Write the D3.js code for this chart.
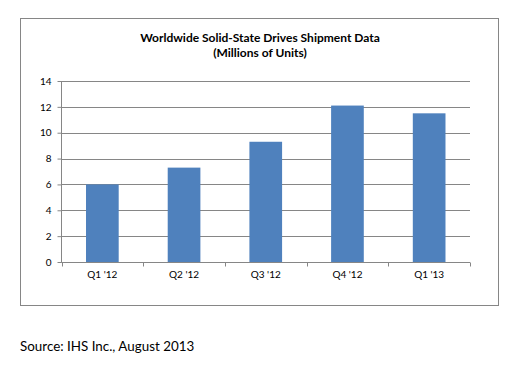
<!DOCTYPE html>
<html>
<head>
<meta charset="utf-8">
<script src="https://cdn.jsdelivr.net/npm/d3@7/dist/d3.min.js"></script>
<style>
  body { margin: 0; background: #fff; }
  text { font-family: Lato, "Open Sans", sans-serif; fill: #000; }
</style>
</head>
<body>
<svg width="524" height="368"></svg>
<script>
// quarterly shipments, millions of units
var quarters = ["Q1 '12", "Q2 '12", "Q3 '12", "Q4 '12", "Q1 '13"];
var shipments = [6.0, 7.3, 9.3, 12.1, 11.5];
var yTicks = [0, 2, 4, 6, 8, 10, 12, 14];
var titleLines = ["Worldwide Solid-State Drives Shipment Data", "(Millions of Units)"];
var sourceNote = "Source: IHS Inc., August 2013";

var svg = d3.select("svg");

// chart frame
svg.append("rect")
  .attr("x", 20.5).attr("y", 18.5)
  .attr("width", 478).attr("height", 287)
  .attr("fill", "#fff")
  .attr("stroke", "#868686");

var x = d3.scaleBand()
  .domain(quarters)
  .range([61.5, 470])
  .paddingInner(0.6)
  .paddingOuter(0.3);

var y = d3.scaleLinear()
  .domain([0, 14])
  .range([262, 81]);

// gridlines
svg.append("g")
  .selectAll("line")
  .data(yTicks)
  .enter().append("line")
  .attr("x1", 61.5).attr("x2", 470)
  .attr("y1", function(d) { return Math.round(y(d)) + 0.5; })
  .attr("y2", function(d) { return Math.round(y(d)) + 0.5; })
  .attr("stroke", "#868686");

// bars
svg.append("g")
  .selectAll("rect")
  .data(shipments)
  .enter().append("rect")
  .attr("x", function(d, i) { return x(quarters[i]); })
  .attr("width", x.bandwidth())
  .attr("y", function(d) { return y(d); })
  .attr("height", function(d) { return y(0) - y(d); })
  .attr("fill", "#4f81bd");

// y axis
var yAxis = svg.append("g")
  .attr("transform", "translate(61.5,0)")
  .call(d3.axisLeft(y).tickValues(yTicks).tickSize(4).tickPadding(6));
yAxis.select(".domain").attr("stroke", "#868686").attr("d", "M0," + y(14) + "V" + (y(0) + 0.5));
yAxis.selectAll(".tick line").attr("stroke", "#868686");
yAxis.selectAll("text").style("font-size", "10px");

// x axis, ticks sit between categories
var xAxis = svg.append("g")
  .attr("transform", "translate(0," + (Math.round(y(0)) + 0.5) + ")")
  .call(d3.axisBottom(x).tickSize(0).tickPadding(8));
xAxis.select(".domain").attr("stroke", "#868686").attr("d", "M61.5,0H470");
xAxis.selectAll("text").style("font-size", "10px");

var step = x.step();
svg.append("g")
  .selectAll("line")
  .data(d3.range(quarters.length + 1))
  .enter().append("line")
  .attr("x1", function(i) { return Math.round(61.5 + i * step) + 0.5; })
  .attr("x2", function(i) { return Math.round(61.5 + i * step) + 0.5; })
  .attr("y1", Math.round(y(0)) + 0.5)
  .attr("y2", Math.round(y(0)) + 4.5)
  .attr("stroke", "#868686");

// title
svg.append("text")
  .attr("x", 260).attr("y", 42)
  .attr("text-anchor", "middle")
  .style("font-size", "12px").style("font-weight", "bold")
  .selectAll("tspan")
  .data(titleLines)
  .enter().append("tspan")
  .attr("x", 260)
  .attr("dy", function(d, i) { return i ? 15 : 0; })
  .text(function(d) { return d; });

// source note
svg.append("text")
  .attr("x", 20).attr("y", 351)
  .style("font-size", "13.4px")
  .text(sourceNote);
</script>
</body>
</html>
